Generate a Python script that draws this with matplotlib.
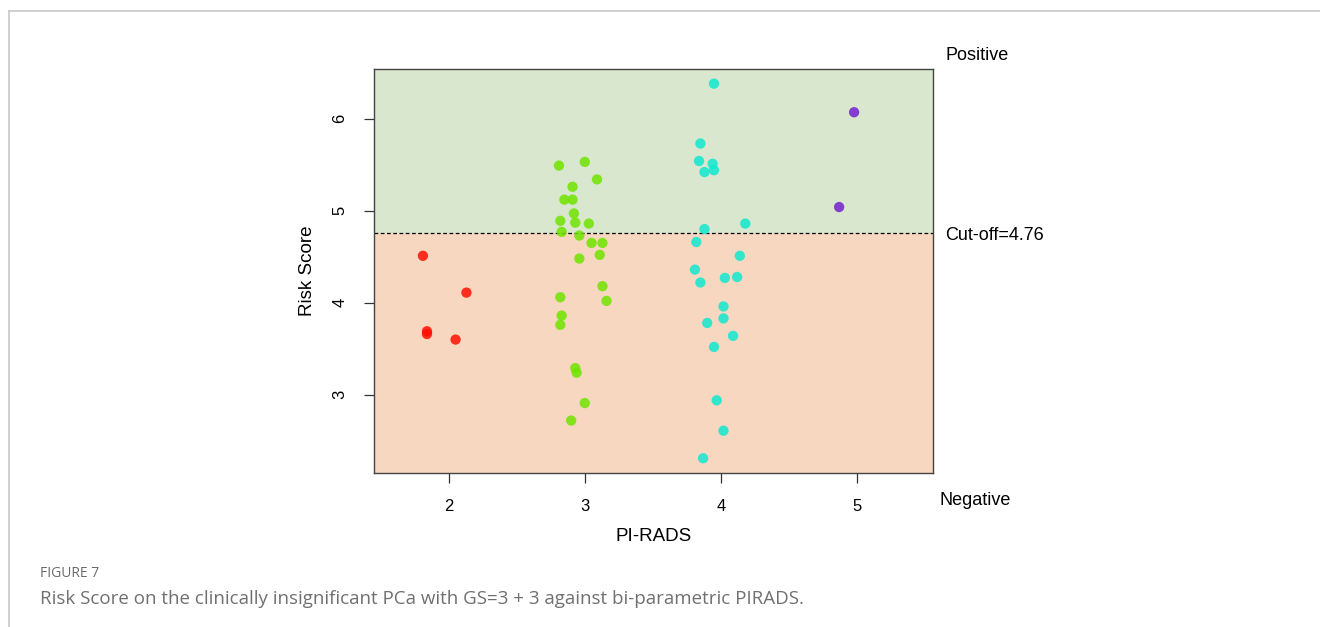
import matplotlib
matplotlib.use('Agg')
import matplotlib.pyplot as plt
import matplotlib.transforms as mtransforms
from matplotlib.lines import Line2D

# data (x is jittered PI-RADS)
pirads2_x = [1.81, 2.13, 1.84, 1.84, 2.05]
pirads2_y = [4.51, 4.11, 3.69, 3.66, 3.60]

pirads3_x = [2.81, 3.00, 3.09, 2.91, 2.85, 2.91, 2.92, 2.82, 2.93, 3.03, 2.83, 2.96, 3.05,
             3.13, 3.11, 2.96, 3.13, 2.82, 3.16, 2.83, 2.82, 2.93, 2.94, 3.00, 2.90]
pirads3_y = [5.49, 5.53, 5.34, 5.26, 5.12, 5.12, 4.97, 4.89, 4.87, 4.86, 4.77, 4.73, 4.65,
             4.65, 4.52, 4.48, 4.18, 4.06, 4.02, 3.86, 3.76, 3.29, 3.24, 2.91, 2.72]

pirads4_x = [3.95, 3.85, 3.84, 3.94, 3.95, 3.88, 4.18, 3.88, 3.82, 4.14, 3.81, 4.03, 4.12,
             3.85, 4.02, 4.02, 3.90, 4.09, 3.95, 3.97, 4.02, 3.87]
pirads4_y = [6.38, 5.73, 5.54, 5.51, 5.44, 5.42, 4.86, 4.80, 4.66, 4.51, 4.36, 4.27, 4.28,
             4.22, 3.96, 3.83, 3.78, 3.64, 3.52, 2.94, 2.61, 2.31]

pirads5_x = [4.98, 4.87]
pirads5_y = [6.07, 5.04]

group_colors = ['#FF1000', '#70E400', '#10E8D0', '#7420D0']
cutoff = 4.76

plt.rcParams['font.family'] = ['Liberation Sans', 'DejaVu Sans']

fig = plt.figure(figsize=(13.2, 6.27), dpi=100)
ax = fig.add_axes([0.2833, 0.2456, 0.4235, 0.6444])

xlim = (1.45, 5.56)
ylim = (2.15, 6.54)
ax.set_xlim(xlim)
ax.set_ylim(ylim)

# background zones
ax.axhspan(cutoff, ylim[1], color='#D8E7CE', zorder=0, lw=0)
ax.axhspan(ylim[0], cutoff, color='#F7D7BF', zorder=0, lw=0)
ax.axhline(cutoff, color='black', lw=0.9, ls=(0, (3, 2)), zorder=1)

groups = [(pirads2_x, pirads2_y), (pirads3_x, pirads3_y),
          (pirads4_x, pirads4_y), (pirads5_x, pirads5_y)]
for (gx, gy), c in zip(groups, group_colors):
    ax.scatter(gx, gy, s=55, color=c, alpha=0.85, edgecolors='none', zorder=3)

ax.set_xticks([2, 3, 4, 5])
ax.set_yticks([3, 4, 5, 6])
ax.tick_params(axis='both', direction='out', length=7, width=0.9, color='#333333',
               labelsize=12, pad=12)
for lab in ax.get_yticklabels():
    lab.set_rotation(90)
    lab.set_va('center')
for sp in ax.spines.values():
    sp.set_color('#444444')
    sp.set_linewidth(1.0)

ax.set_xlabel('PI-RADS', fontsize=13.5, labelpad=10)
ax.set_ylabel('Risk Score', fontsize=13.5, labelpad=12)

trans = mtransforms.blended_transform_factory(ax.transAxes, ax.transData)
ax.text(1.0215, cutoff - 0.03, 'Cut-off=4.76', transform=trans, fontsize=13,
        va='center', ha='left', clip_on=False)
fig.text(0.716, 0.911, 'Positive', fontsize=13, va='center', ha='left')
fig.text(0.712, 0.201, 'Negative', fontsize=13, va='center', ha='left')

# page frame
fig.add_artist(Line2D([0.0068, 1.0], [0.9825, 0.9825], color='#C8C8C8', lw=1.2,
                      transform=fig.transFigure))
fig.add_artist(Line2D([0.0068, 0.0068], [0.0, 0.9825], color='#C8C8C8', lw=1.2,
                      transform=fig.transFigure))

# caption
fig.text(0.0303, 0.0861, 'FIGURE 7', fontsize=10, color='#6A6A6A',
         family=['Open Sans', 'DejaVu Sans'], va='center', ha='left')
fig.text(0.0303, 0.0445,
         'Risk Score on the clinically insignificant PCa with GS=3 + 3 against bi-parametric PIRADS.',
         fontsize=13.5, color='#707070', family=['Open Sans', 'DejaVu Sans'],
         va='center', ha='left')

fig.savefig('out.png', dpi=100)
